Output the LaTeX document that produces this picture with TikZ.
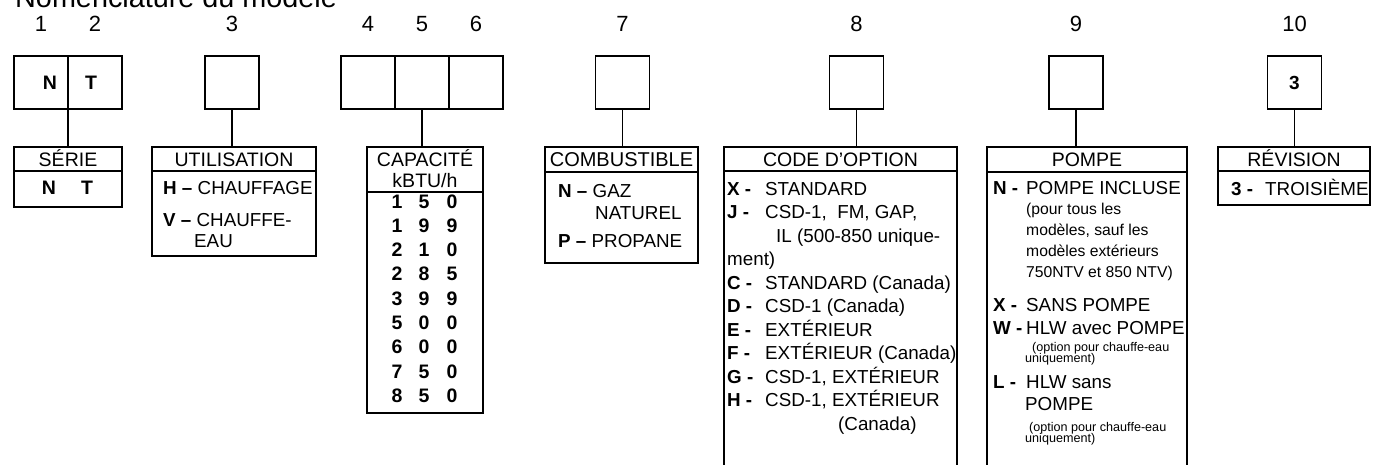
\documentclass[tikz,border=0pt]{standalone}
\usepackage{fontspec}
\setmainfont{Liberation Sans}
\usetikzlibrary{positioning}

\begin{document}
\begin{tikzpicture}[x=1pt,y=-1pt,
  box/.style={draw,line width=1.4pt,inner sep=0pt,outer sep=0pt},
  cell/.style={box,minimum width=54pt,minimum height=53pt,font=\fontsize{19}{22}\selectfont\bfseries},
  legend/.style={box,anchor=north west},
  wire/.style={line width=1.4pt},
  posnum/.style={anchor=base,inner sep=0pt,font=\fontsize{22}{24}\selectfont},
  hdr/.style={anchor=base,inner sep=0pt,font=\fontsize{19.5}{22}\selectfont},
  digit/.style={anchor=base,inner sep=0pt,font=\fontsize{19.5}{22}\selectfont\bfseries},
  key/.style={anchor=base west,inner sep=0pt,font=\fontsize{18.8}{22}\selectfont\bfseries},
  txt/.style={anchor=base west,inner sep=0pt,font=\fontsize{18.8}{22}\selectfont},
  remark/.style={anchor=base west,inner sep=0pt,font=\fontsize{15.7}{18}\selectfont},
  fine/.style={anchor=base west,inner sep=0pt,font=\fontsize{12.6}{14}\selectfont}]

\useasboundingbox (0,0) rectangle (1377,464);

\node[anchor=base west,inner sep=0pt,font=\fontsize{28.8}{32}\selectfont] (title) at (15,7) {Nomenclature du modèle};

% code positions
\node[cell] (n1) at (41,82.5) {};
\node[cell,right=0pt of n1] (n2) {};
\node[cell] (n3) at (232,82.5) {};
\node[cell] (n4) at (368,82.5) {};
\node[cell,right=0pt of n4] (n5) {};
\node[cell,right=0pt of n5] (n6) {};
\node[cell] (n7) at (622.5,82.5) {};
\node[cell] (n8) at (856.5,82.5) {};
\node[cell] (n9) at (1076,82.5) {};
\node[cell] (n10) at (1294.5,82.5) {3};
\node[digit,anchor=center] (cN) at (50,82.5) {N};
\node[digit,anchor=center] (cT) at (91,82.5) {T};

\foreach \c in {1,...,10}
  \node[posnum] (d\c) at (n\c |- 0,31) {\c};

% legend boxes
\node[legend,minimum width=108pt,minimum height=60pt] (serie) at (14,147) {};
\node[legend,minimum width=164pt,minimum height=109pt] (util) at (152,147) {};
\node[legend,minimum width=116pt,minimum height=266pt] (capa) at (367,147) {};
\node[legend,minimum width=153pt,minimum height=116pt] (comb) at (545,147) {};
\node[legend,minimum width=233pt,minimum height=322pt] (code) at (724,147) {};
\node[legend,minimum width=200pt,minimum height=322pt] (pompe) at (987,147) {};
\node[legend,minimum width=152pt,minimum height=58pt] (revi) at (1218,147) {};

\foreach \b/\y in {serie/171,util/171,capa/192,comb/172,code/171,pompe/172,revi/171}
  \draw[wire] (\b.west |- 0,\y) -- (\b.east |- 0,\y);

\foreach \a/\b in {n1.south east/serie,n3.south/util,n5.south/capa,n7.south/comb,n8.south/code,n9.south/pompe,n10.south/revi}
  \draw[wire] (\a) -- (\a |- \b.north);

% headers
\node[hdr] (hserie) at (serie.north |- 0,166) {SÉRIE};
\node[hdr] (hutil) at (util.north |- 0,166) {UTILISATION};
\node[hdr] (hcapa) at (capa.north |- 0,166) {CAPACITÉ};
\node[hdr] (hkbtu) at (capa.north |- 0,187) {kBTU/h};
\node[hdr,font=\fontsize{20}{22}\selectfont] (hcomb) at (comb.north |- 0,166) {COMBUSTIBLE};
\node[hdr] (hcode) at (code.north |- 0,166) {CODE D’OPTION};
\node[hdr] (hpompe) at (pompe.north |- 0,166) {POMPE};
\node[hdr] (hrevi) at (revi.north |- 0,166) {RÉVISION};

% serie
\node[digit] (sN) at (49,194) {N};
\node[digit] (sT) at (87,194) {T};

% utilisation
\node[txt] (uH) at (163,194) {\textbf{H –} CHAUFFAGE};
\node[txt] (uV) at (163,226) {\textbf{V –} CHAUFFE-};
\node[txt] (uV2) at (194,247) {EAU};

% capacite
\foreach \a/\b/\c [count=\i from 0] in {1/5/0,1/9/9,2/1/0,2/8/5,3/9/9,5/0/0,6/0/0,7/5/0,8/5/0} {
  \node[digit] (ca\i) at (397,{208+24.3*\i}) {\a};
  \node[digit] (cb\i) at (424,{208+24.3*\i}) {\b};
  \node[digit] (cc\i) at (452,{208+24.3*\i}) {\c};
}

% combustible
\node[txt] (fN) at (558,197) {\textbf{N –} GAZ};
\node[txt] (fN2) at (595,219) {NATUREL};
\node[txt] (fP) at (558,247) {\textbf{P –} PROPANE};

% code d'option
\foreach \k/\t/\y in {X/STANDARD/195,J/{CSD-1,\ \ FM, GAP,}/218.5,C/STANDARD (Canada)/289,D/CSD-1 (Canada)/312.5,E/EXTÉRIEUR/336,F/EXTÉRIEUR (Canada)/359.5,G/{CSD-1, EXTÉRIEUR}/383,H/{CSD-1, EXTÉRIEUR}/406.5} {
  \node[key] (ok\k) at (727,\y) {\k\ -};
  \node[txt] (ot\k) at (765,\y) {\t};
}
\node[txt] (otJ2) at (776,242) {IL (500-850 unique-};
\node[txt] (otJ3) at (727,265.5) {ment)};
\node[txt] (otH2) at (838,430) {(Canada)};

% pompe
\foreach \k/\t/\y in {N/POMPE INCLUSE/194,X/SANS POMPE/311,W/HLW avec POMPE/334,L/HLW sans/388} {
  \node[key] (pk\k) at (993,\y) {\k\ -};
  \node[txt] (pt\k) at (1026,\y) {\t};
}
\node[remark] (pN1) at (1026,214) {(pour tous les};
\node[remark] (pN2) at (1026,235) {modèles, sauf les};
\node[remark] (pN3) at (1026,256) {modèles extérieurs};
\node[remark] (pN4) at (1026,277) {750NTV et 850 NTV)};
\node[fine] (pW1) at (1032,351) {(option pour chauffe-eau};
\node[fine] (pW2) at (1025,362) {uniquement)};
\node[txt] (pL2) at (1025,410) {POMPE};
\node[fine] (pL3) at (1029,431) {(option pour chauffe-eau};
\node[fine] (pL4) at (1025,442) {uniquement)};

% revision
\node[key] (rk) at (1231,195) {3 -};
\node[txt] (rt) at (1265,195) {TROISIÈME};

\end{tikzpicture}
\end{document}
